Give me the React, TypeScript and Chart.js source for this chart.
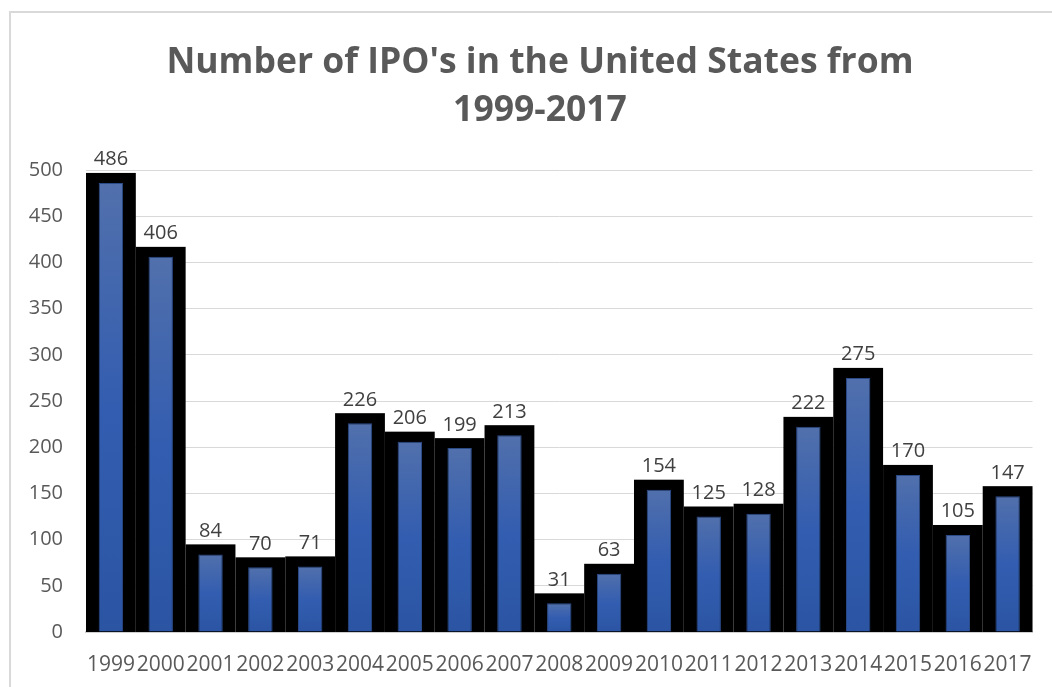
import React, { useEffect, useRef } from "react";
import { Chart, registerables } from "chart.js";

Chart.register(...registerables);

const years = ["1999","2000","2001","2002","2003","2004","2005","2006","2007","2008","2009","2010","2011","2012","2013","2014","2015","2016","2017"];
const ipoCounts = [486,406,84,70,71,226,206,199,213,31,63,154,125,128,222,275,170,105,147];
const titleLines = ["Number of IPO's in the United States from", "1999-2017"];
const yMin = 0;
const yMax = 500;
const yStep = 50;

const FONT = "'Open Sans', 'DejaVu Sans', sans-serif";

const framePlugin = {
  id: "frame",
  beforeDraw(chart: any) {
    const { ctx, width, height } = chart;
    ctx.save();
    ctx.fillStyle = "#ffffff";
    ctx.fillRect(0, 0, width, height);
    ctx.strokeStyle = "#d9d9d9";
    ctx.lineWidth = 2;
    ctx.beginPath();
    ctx.moveTo(10, height);
    ctx.lineTo(10, 12);
    ctx.lineTo(width, 12);
    ctx.stroke();
    // title (drawn as canvas text, centred on the full Excel chart frame)
    ctx.fillStyle = "#595959";
    ctx.font = `bold 35.5px ${FONT}`;
    ctx.textAlign = "center";
    ctx.textBaseline = "middle";
    titleLines.forEach((line, i) => {
      ctx.fillText(line, 540, 63 + i * 48);
    });
    ctx.restore();
  },
};

const blackBoxPlugin = {
  id: "blackBoxes",
  beforeDatasetsDraw(chart: any) {
    const { ctx, chartArea, scales } = chart;
    const meta = chart.getDatasetMeta(0);
    const catW = (chartArea.right - chartArea.left) / years.length;
    const base = scales.y.getPixelForValue(0);
    ctx.save();
    ctx.fillStyle = "#000000";
    meta.data.forEach((el: any) => {
      const left = el.x - catW / 2;
      const top = el.y - 10;
      ctx.fillRect(left, top, catW, base - top);
    });
    ctx.restore();
  },
  afterDatasetsDraw(chart: any) {
    const { ctx } = chart;
    const meta = chart.getDatasetMeta(0);
    ctx.save();
    ctx.fillStyle = "#404040";
    ctx.font = `20px ${FONT}`;
    ctx.textAlign = "center";
    ctx.textBaseline = "alphabetic";
    meta.data.forEach((el: any, i: number) => {
      ctx.fillText(String(ipoCounts[i]), el.x, el.y - 17.5);
    });
    ctx.restore();
  },
};

export default function App() {
  const canvasRef = useRef<HTMLCanvasElement | null>(null);

  useEffect(() => {
    if (!canvasRef.current) return;
    const chart = new Chart(canvasRef.current, {
      type: "bar",
      data: {
        labels: years,
        datasets: [
          {
            data: ipoCounts,
            backgroundColor: (context: any) => {
              const c = context.chart;
              const { ctx, chartArea, scales } = c;
              if (!chartArea || !scales || !scales.y) return "#3a62ad";
              const v = ipoCounts[context.dataIndex];
              const top = scales.y.getPixelForValue(v);
              const bottom = scales.y.getPixelForValue(0);
              if (!isFinite(top) || !isFinite(bottom) || bottom - top < 1) return "#3a62ad";
              const g = ctx.createLinearGradient(0, top, 0, bottom);
              g.addColorStop(0, "#5170ac");
              g.addColorStop(0.5, "#335db0");
              g.addColorStop(1, "#2b55a3");
              return g;
            },
            borderColor: "#2a4a88",
            borderWidth: 1,
            barPercentage: 0.49,
            categoryPercentage: 1.0,
          },
        ],
      },
      options: {
        responsive: false,
        animation: false,
        layout: { padding: { top: 170, left: 10, right: 14, bottom: 10 } },
        plugins: {
          legend: { display: false },
          tooltip: { enabled: false },
          title: { display: false },
        },
        scales: {
          x: {
            grid: { display: false, drawTicks: false },
            border: { display: true, color: "#d0d0d0", width: 2 },
            ticks: {
              color: "#595959",
              font: { family: FONT, size: 21 },
              padding: 20,
              autoSkip: false,
              maxRotation: 0,
              minRotation: 0,
            },
            afterFit: (scale: any) => {
              scale.height = 45;
            },
          },
          y: {
            min: yMin,
            max: yMax,
            grid: { color: "#d9d9d9", lineWidth: 1, drawTicks: false },
            border: { display: false },
            ticks: {
              stepSize: yStep,
              color: "#595959",
              font: { family: FONT, size: 20 },
              padding: 23,
            },
            afterFit: (scale: any) => {
              scale.width = 76;
            },
          },
        },
      },
      plugins: [framePlugin, blackBoxPlugin],
    });
    return () => chart.destroy();
  }, []);

  return (
    <div style={{ position: "fixed", left: 0, top: 0, width: 1052, height: 687, background: "#fff" }}>
      <canvas ref={canvasRef} width={1052} height={687} style={{ display: "block" }} />
    </div>
  );
}
